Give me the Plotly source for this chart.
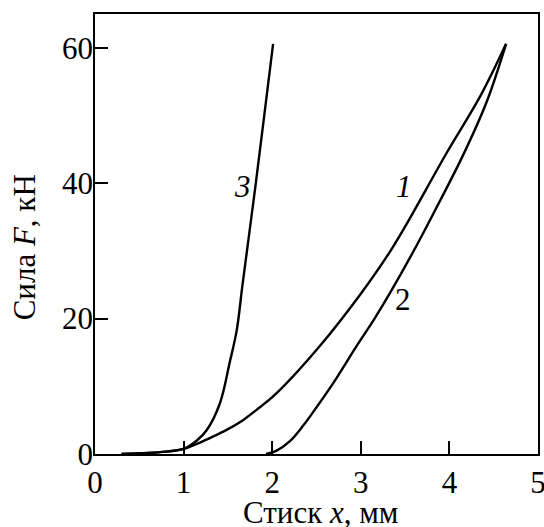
import plotly.graph_objects as go

# Curve 1
x1 = [0.3, 0.6, 0.8, 1.0, 1.15, 1.32, 1.49, 1.67, 1.85, 2.05, 2.54, 2.99, 3.30, 3.5, 3.97, 4.35, 4.64]
f1 = [0.0, 0.15, 0.35, 0.75, 1.5, 2.5, 3.6, 5.0, 6.8, 9.0, 16.0, 23.5, 29.3, 33.6, 44.5, 52.9, 60.6]
# Curve 2
x2 = [1.93, 2.05, 2.2, 2.35, 2.5, 2.7, 2.95, 3.15, 3.33, 3.63, 3.89, 4.16, 4.42, 4.64]
f2 = [0.0, 0.5, 1.9, 4.2, 6.9, 10.7, 15.9, 19.9, 23.8, 30.8, 37.3, 44.3, 52.0, 60.6]
# Curve 3
x3 = [0.3, 0.6, 0.8, 1.0, 1.15, 1.26, 1.41, 1.52, 1.60, 1.66, 1.72, 1.81, 1.91, 2.01]
f3 = [0.0, 0.15, 0.35, 0.75, 2.0, 3.5, 7.5, 13.5, 18.3, 24.5, 30.5, 39.5, 50.0, 60.6]

labels = ["<i>1</i>", "2", "<i>3</i>"]
label_x = [3.49, 3.48, 1.67]
label_y = [39.5, 22.8, 39.5]

x_ticks = [0, 1, 2, 3, 4, 5]
y_ticks = [0, 20, 40, 60]

x_title = "Стиск <i>x</i>, мм"
y_title = "Сила <i>F</i>, кН"

FONT = "Liberation Serif, Times New Roman, serif"
FS = 31

fig = go.Figure()
for xs, ys in [(x1, f1), (x2, f2), (x3, f3)]:
    fig.add_trace(go.Scatter(x=xs, y=ys, mode="lines",
                             line=dict(color="black", width=2.4, shape="spline", smoothing=1.0),
                             showlegend=False, hoverinfo="skip"))

for t, lx, ly in zip(labels, label_x, label_y):
    fig.add_annotation(x=lx, y=ly, text=t, showarrow=False,
                       font=dict(family=FONT, size=FS, color="black"))

fig.add_annotation(xref="paper", yref="paper", x=0.508, y=-0.134, text=x_title,
                   showarrow=False, xanchor="center", yanchor="middle",
                   font=dict(family=FONT, size=FS, color="black"))
fig.add_annotation(xref="paper", yref="paper", x=-0.16, y=0.47, text=y_title,
                   showarrow=False, xanchor="center", yanchor="middle", textangle=-90,
                   font=dict(family=FONT, size=FS, color="black"))

fig.update_layout(
    width=544, height=527, autosize=False,
    margin=dict(l=95, r=6, t=14, b=73),
    paper_bgcolor="white", plot_bgcolor="white",
    font=dict(family=FONT, size=FS, color="black"),
    xaxis=dict(range=[0, 5], tickvals=x_ticks, ticks="inside", ticklen=13,
               tickwidth=1.5, tickcolor="black", showline=True, linecolor="black",
               linewidth=1.5, mirror=True, showgrid=False, zeroline=False,
               automargin=False, ticklabeloverflow="allow"),
    yaxis=dict(range=[0, 65], tickvals=y_ticks, ticks="inside", ticklen=13,
               tickwidth=1.5, tickcolor="black", showline=True, linecolor="black",
               linewidth=1.5, mirror=True, showgrid=False, zeroline=False,
               automargin=False, ticklabeloverflow="allow", ticklabelstandoff=-6),
)

post = ("document.body.style.margin='0';document.body.style.overflow='hidden';"
        "var gd=document.getElementById('{plot_id}');"
        "Plotly.relayout(gd,{width:544,height:527});")

fig.write_html("out.html", config={"responsive": False, "displayModeBar": False},
               post_script=post)
